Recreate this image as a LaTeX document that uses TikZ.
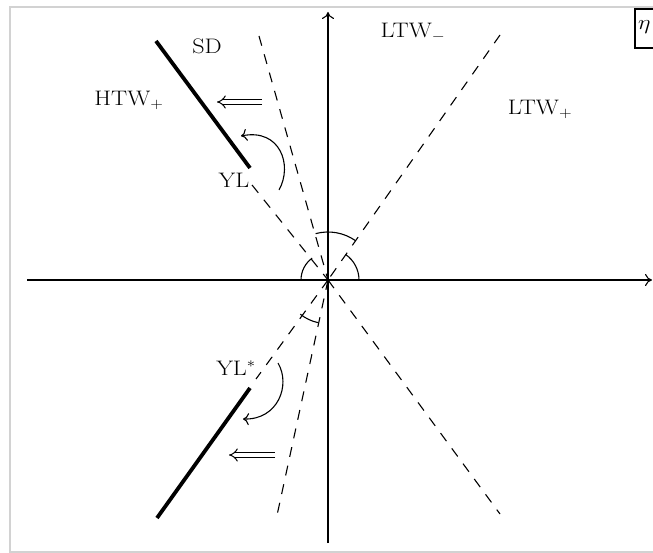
\documentclass[tikz,border=0pt]{standalone}
\usetikzlibrary{arrows.meta}
\begin{document}
\begin{tikzpicture}[x=1pt,y=1pt,
  lbl/.style={inner sep=0pt,font=\fontsize{21}{25}\selectfont},
  axis/.style={line width=1.1pt,-{To[length=7pt,width=12pt]}},
  dsh/.style={line width=1.1pt,dash pattern=on 10pt off 9pt},
  thick line/.style={line width=3.8pt},
  angarc/.style={line width=1.1pt},
  curvarr/.style={line width=1.1pt,-{To[length=6pt,width=12pt]}},
  dblarr/.style={double,double distance=3.6pt,line width=1pt,-{Implies}}]
\useasboundingbox (0,0) rectangle (653,-553);
\clip (0,0) rectangle (653,-553);
% outer frame
\draw[line width=1.8pt,gray!35] (10,-7) rectangle (700,-552);
% eta box
\draw[line width=1.1pt] (635,-9) rectangle (700,-48);
\node[lbl,anchor=west] (eta) at (638,-27) {\scalebox{1.15}[1]{$\eta$}};
% coordinates
\coordinate (O) at (328,-280);
\coordinate (xl) at (27,-280);
\coordinate (xr) at (652,-280);
\coordinate (yb) at (328,-543);
\coordinate (yt) at (328,-12);
\coordinate (sdT) at (259,-36);
\coordinate (sdB) at (276,-520);
\coordinate (ylT) at (252,-185);
\coordinate (ltwB) at (500,-514);
\coordinate (ltwT) at (500,-35);
\coordinate (ylsB) at (256,-379);
\coordinate (th1a) at (156,-41);
\coordinate (th1b) at (250,-168);
\coordinate (th2a) at (250,-388);
\coordinate (th2b) at (157,-518);
\coordinate (c1s) at (279,-190);
\coordinate (c1e) at (241,-136);
\coordinate (c2s) at (278,-363);
\coordinate (c2e) at (243,-419);
\coordinate (d1s) at (262,-102);
\coordinate (d1e) at (217,-102);
\coordinate (d2s) at (275,-455);
\coordinate (d2e) at (229,-455);
% axes
\draw[axis] (xl) -- (xr);
\draw[axis] (yb) -- (yt);
% dashed lines
\draw[dsh] (sdT) -- (O);
\draw[dsh] (O) -- (sdB);
\draw[dsh] (ylT) -- (O);
\draw[dsh] (O) -- (ltwB);
\draw[dsh] (ltwT) -- (O);
\draw[dsh] (O) -- (ylsB);
% thick lines
\draw[thick line] (th1a) -- (th1b);
\draw[thick line] (th2a) -- (th2b);
% angle arcs
\draw[angarc] (O) ++(180:27) arc[start angle=180,end angle=126,radius=27];
\draw[angarc] (O) ++(0:31) arc[start angle=0,end angle=55,radius=31];
\draw[angarc] (O) ++(105:48) arc[start angle=105,end angle=55,radius=48];
\draw[angarc] (O) ++(231:44) arc[start angle=231,end angle=258,radius=42];
% curved arrows
\draw[curvarr] (c1s) .. controls (293,-165) and (280,-128) .. (c1e);
\draw[curvarr] (c2s) .. controls (291,-385) and (278,-420) .. (c2e);
% double arrows
\draw[dblarr] (d1s) -- (d1e);
\draw[dblarr] (d2s) -- (d2e);
% labels
\node[lbl] (sd) at (207,-46) {\scalebox{1.15}[1]{SD}};
\node[lbl] (htw) at (129,-100) {\scalebox{1.15}[1]{HTW$_+$}};
\node[lbl] (yl) at (234,-180) {\scalebox{1.15}[1]{YL}};
\node[lbl] (ltwm) at (413,-32) {\scalebox{1.15}[1]{LTW$_-$}};
\node[lbl] (ltwp) at (540,-109) {\scalebox{1.15}[1]{LTW$_+$}};
\node[lbl] (yls) at (236,-368) {\scalebox{1.15}[1]{YL$^*$}};
\end{tikzpicture}
\end{document}
